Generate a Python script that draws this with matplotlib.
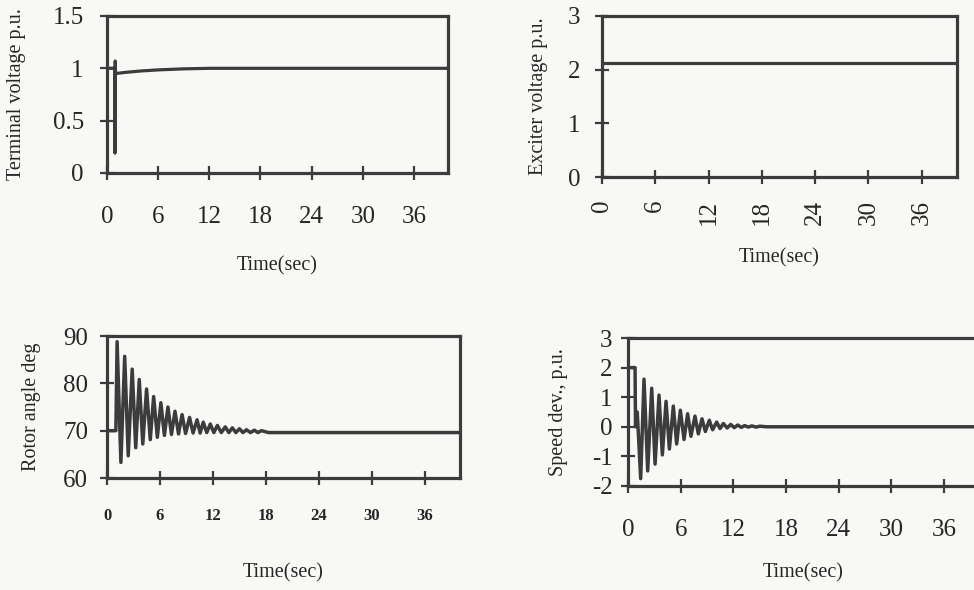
import matplotlib
matplotlib.use("Agg")
import matplotlib.pyplot as plt

plt.rcParams['font.family'] = ['Liberation Serif', 'DejaVu Serif']
plt.rcParams['axes.unicode_minus'] = False

INK = '#3c3c3c'
TEXT = '#262626'
PAPER = '#f8f8f6'

time_ticks = [0, 6, 12, 18, 24, 30, 36]

# Terminal voltage (p.u.)
vt_time = [0, 0.9, 0.93, 0.96, 1.0, 2, 4, 6, 9, 12, 20, 40]
vt_value = [1.0, 1.0, 0.19, 1.07, 0.95, 0.96, 0.975, 0.985, 0.995, 1.0, 1.0, 1.0]

# Exciter voltage (p.u.)
ef_time = [0, 40]
ef_value = [2.13, 2.13]

# Rotor angle (deg): pre-fault, swing peaks / troughs, steady state
rotor_pre_time = [0, 1.0]
rotor_pre_value = [70.0, 70.0]
rotor_peak_time = [1.14, 2.0, 2.85, 3.65, 4.48, 5.28, 6.1, 6.9, 7.7, 8.5, 9.35,
                   10.2, 10.9, 11.7, 12.5, 13.4, 14.2, 15.0, 15.8, 16.7, 17.5]
rotor_peak_value = [88.8, 85.7, 83.0, 80.8, 78.8, 77.2, 75.9, 75.0, 74.1, 73.4, 72.8,
                    72.3, 71.8, 71.4, 71.1, 70.8, 70.6, 70.4, 70.2, 70.1, 70.0]
rotor_trough_time = [1.57, 2.4, 3.25, 4.05, 4.9, 5.7, 6.5, 7.3, 8.1, 8.9, 9.75,
                     10.55, 11.3, 12.1, 12.95, 13.8, 14.6, 15.4, 16.25, 17.1]
rotor_trough_value = [63.3, 64.7, 66.4, 67.2, 68.1, 68.6, 69.0, 69.2, 69.3, 69.4, 69.5,
                      69.5, 69.6, 69.6, 69.6, 69.6, 69.6, 69.6, 69.6, 69.6]
rotor_end_time = [18.3, 40]
rotor_end_value = [69.6, 69.6]

# Speed deviation (p.u.)
speed_pre_time = [0, 0.8, 0.85, 1.05]
speed_pre_value = [2.0, 2.0, 0.0, 0.5]
speed_peak_time = [1.82, 2.70, 3.53, 4.33, 5.16, 5.96, 6.79, 7.63, 8.43, 9.26,
                   10.1, 10.86, 11.7, 12.5, 13.3, 14.1, 15.0]
speed_peak_value = [1.61, 1.30, 1.07, 0.86, 0.70, 0.56, 0.44, 0.36, 0.27, 0.22,
                    0.16, 0.11, 0.08, 0.06, 0.04, 0.03, 0.02]
speed_trough_time = [1.44, 2.24, 3.08, 3.91, 4.71, 5.54, 6.38, 7.17, 8.01, 8.81,
                     9.64, 10.48, 11.3, 12.1, 12.9, 13.7, 14.6]
speed_trough_value = [-1.75, -1.49, -1.26, -0.95, -0.75, -0.58, -0.43, -0.32, -0.24, -0.16,
                      -0.10, -0.06, -0.04, -0.03, -0.02, -0.01, -0.01]
speed_end_time = [15.8, 40]
speed_end_value = [0.0, 0.0]


def swing(pre_t, pre_v, pk_t, pk_v, tr_t, tr_v, end_t, end_v):
    pts = sorted(list(zip(pk_t, pk_v)) + list(zip(tr_t, tr_v)))
    t = list(pre_t) + [p[0] for p in pts] + list(end_t)
    v = list(pre_v) + [p[1] for p in pts] + list(end_v)
    return t, v


def style(ax, yticks, ylabels, ylabel, tick_size, xpad, ypad, xlpad, ylpad,
          xrot=0, weight='normal'):
    ax.set_facecolor(PAPER)
    for s in ax.spines.values():
        s.set_color(INK)
        s.set_linewidth(2.3)
    ax.set_xlim(0, 40)
    ax.set_xticks(time_ticks)
    ax.set_xticklabels([str(t) for t in time_ticks], rotation=xrot,
                       fontsize=tick_size, fontweight=weight)
    ax.set_yticks(yticks)
    ax.set_yticklabels(ylabels, fontsize=18)
    ax.set_ylim(yticks[0], yticks[-1])
    ax.tick_params(axis='both', direction='inout', length=9.5, width=1.6,
                   color=INK, labelcolor=TEXT)
    ax.tick_params(axis='x', pad=xpad)
    ax.tick_params(axis='y', pad=ypad)
    ax.set_xlabel('Time(sec)', fontsize=14.5, labelpad=xlpad, color=TEXT)
    ax.set_ylabel(ylabel, fontsize=14.5, labelpad=ylpad, color=TEXT)


fig = plt.figure(figsize=(9.74, 5.9), dpi=100, facecolor=PAPER)

ax1 = fig.add_axes([0.1099, 0.7068, 0.3501, 0.2661])
ax1.plot(vt_time, vt_value, color=INK, lw=2.3)
style(ax1, [0, 0.5, 1, 1.5], ['0', '0.5', '1', '1.5'], 'Terminal voltage p.u.',
      18, 19, 12, 20, 19)

ax2 = fig.add_axes([0.6181, 0.7000, 0.3645, 0.2729])
ax2.plot(ef_time, ef_value, color=INK, lw=2.3)
style(ax2, [0, 1, 2, 3], ['0', '1', '2', '3'], 'Exciter voltage p.u.',
      18, 11.5, 11, 17, 14, xrot=90)

ax3 = fig.add_axes([0.1099, 0.1898, 0.3624, 0.2407])
rt, rv = swing(rotor_pre_time, rotor_pre_value, rotor_peak_time, rotor_peak_value,
               rotor_trough_time, rotor_trough_value, rotor_end_time, rotor_end_value)
ax3.plot(rt, rv, color=INK, lw=2.5)
style(ax3, [60, 70, 80, 90], ['60', '70', '80', '90'], 'Rotor angle deg',
      12, 17, 9, 28, 16, weight='bold')

ax4 = fig.add_axes([0.6448, 0.1763, 0.3604, 0.2508])
st, sv = swing(speed_pre_time, speed_pre_value, speed_peak_time, speed_peak_value,
               speed_trough_time, speed_trough_value, speed_end_time, speed_end_value)
ax4.plot(st, sv, color=INK, lw=2.5)
style(ax4, [-2, -1, 0, 1, 2, 3], ['-2', '-1', '0', '1', '2', '3'], 'Speed dev., p.u.',
      18, 19, 6.5, 16, 17)

fig.savefig('out.png', dpi=100, facecolor=PAPER)
